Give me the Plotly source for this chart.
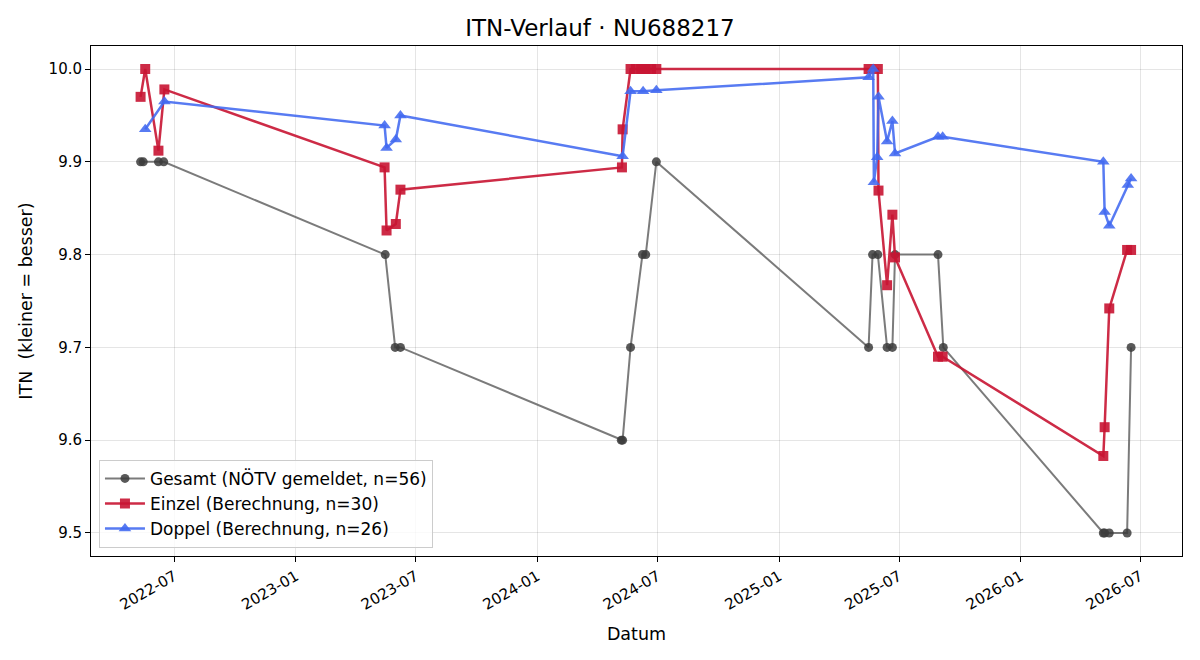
import plotly.graph_objects as go

gesamt_dates = ["2022-05-11", "2022-05-15", "2022-06-07", "2022-06-15", "2023-05-16", "2023-05-31",
                "2023-06-08", "2024-05-07", "2024-05-09", "2024-05-21", "2024-06-08", "2024-06-13",
                "2024-06-29", "2025-05-16", "2025-05-22", "2025-05-30", "2025-06-13", "2025-06-21",
                "2025-06-25", "2025-08-29", "2025-09-06", "2026-05-06", "2026-05-08", "2026-05-15",
                "2026-06-11", "2026-06-17"]
gesamt_vals = [9.9, 9.9, 9.9, 9.9, 9.8, 9.7,
               9.7, 9.6, 9.6, 9.7, 9.8, 9.8,
               9.9, 9.7, 9.8, 9.8, 9.7, 9.7,
               9.8, 9.8, 9.7, 9.5, 9.5, 9.5,
               9.5, 9.7]

einzel_dates = ["2022-05-11", "2022-05-18", "2022-06-07", "2022-06-16", "2023-05-15", "2023-05-18",
                "2023-06-01", "2023-06-08", "2024-05-08", "2024-05-09", "2024-05-21", "2024-05-29",
                "2024-06-06", "2024-06-13", "2024-06-21", "2024-06-29", "2025-05-16", "2025-05-30",
                "2025-05-31", "2025-06-13", "2025-06-21", "2025-06-25", "2025-08-29", "2025-09-05",
                "2026-05-06", "2026-05-08", "2026-05-15", "2026-06-11", "2026-06-17"]
einzel_vals = [9.970, 10.0, 9.912, 9.978, 9.894, 9.826,
               9.833, 9.870, 9.894, 9.935, 10.0, 10.0,
               10.0, 10.0, 10.0, 10.0, 10.0, 10.0,
               9.869, 9.767, 9.843, 9.797, 9.690, 9.690,
               9.583, 9.614, 9.742, 9.805, 9.805]

doppel_dates = ["2022-05-18", "2022-06-16", "2023-05-15", "2023-05-18", "2023-06-01", "2023-06-08",
                "2024-05-09", "2024-05-21", "2024-06-09", "2024-06-29", "2025-05-16", "2025-05-23",
                "2025-05-24", "2025-05-29", "2025-05-31", "2025-06-13", "2025-06-21", "2025-06-25",
                "2025-08-29", "2025-09-05", "2026-05-06", "2026-05-08", "2026-05-15", "2026-06-12",
                "2026-06-17"]
doppel_vals = [9.935, 9.965, 9.939, 9.915, 9.924, 9.950,
               9.906, 9.976, 9.976, 9.977, 9.991, 10.0,
               9.878, 9.905, 9.970, 9.922, 9.944, 9.909,
               9.927, 9.927, 9.900, 9.846, 9.831, 9.875,
               9.882]

series_names = ["Gesamt (NÖTV gemeldet, n=56)", "Einzel (Berechnung, n=30)", "Doppel (Berechnung, n=26)"]

FONT = "DejaVu Sans"
fig = go.Figure()
fig.add_trace(go.Scatter(
    x=gesamt_dates, y=gesamt_vals, name=series_names[0], mode="lines+markers",
    line=dict(color="rgba(90,90,90,0.8)", width=2),
    marker=dict(symbol="circle", size=9, color="rgba(60,60,60,0.85)", line=dict(width=0)),
))
fig.add_trace(go.Scatter(
    x=einzel_dates, y=einzel_vals, name=series_names[1], mode="lines+markers",
    line=dict(color="rgba(200,20,50,0.9)", width=2.5),
    marker=dict(symbol="square", size=10, color="rgba(200,20,50,0.9)", line=dict(width=0)),
))
fig.add_trace(go.Scatter(
    x=doppel_dates, y=doppel_vals, name=series_names[2], mode="lines+markers",
    line=dict(color="rgba(65,105,240,0.88)", width=2.5),
    marker=dict(symbol="triangle-up", size=11, color="rgba(65,105,240,0.88)", line=dict(width=0)),
))

fig.update_layout(
    width=1200, height=660,
    margin=dict(l=91, r=18, t=46, b=104),
    paper_bgcolor="white", plot_bgcolor="white",
    font=dict(family=FONT, size=15, color="black"),
    title=dict(text="ITN-Verlauf · NU688217", x=0.5, xanchor="center", y=0.957, yanchor="middle",
               font=dict(size=23, family=FONT)),
    showlegend=True,
    legend=dict(x=0.0073, y=0.016, xanchor="left", yanchor="bottom",
                bgcolor="rgba(255,255,255,0.8)", bordercolor="#cccccc", borderwidth=1,
                font=dict(size=17, family=FONT), tracegroupgap=3, itemwidth=40),
)
fig.update_xaxes(
    type="date", range=["2022-02-25", "2026-09-02"],
    tickformat="%Y-%m", dtick="M6", tick0="2022-01-01", tickangle=-30,
    showgrid=True, gridcolor="rgba(0,0,0,0.1)", gridwidth=1,
    showline=True, linecolor="black", linewidth=1, mirror=True,
    ticks="outside", ticklen=5, tickcolor="black", zeroline=False,
    title=dict(text="Datum", font=dict(size=17.5), standoff=14),
    tickfont=dict(size=15),
)
fig.update_yaxes(
    range=[9.4752, 10.0248], tickvals=[9.5, 9.6, 9.7, 9.8, 9.9, 10.0], tickformat=".1f",
    showgrid=True, gridcolor="rgba(0,0,0,0.1)", gridwidth=1,
    showline=True, linecolor="black", linewidth=1, mirror=True,
    ticks="outside", ticklen=5, tickcolor="black", zeroline=False,
    title=dict(text="ITN  (kleiner = besser)", font=dict(size=17.5), standoff=11),
    tickfont=dict(size=15),
)

fig.write_html("out.html")
